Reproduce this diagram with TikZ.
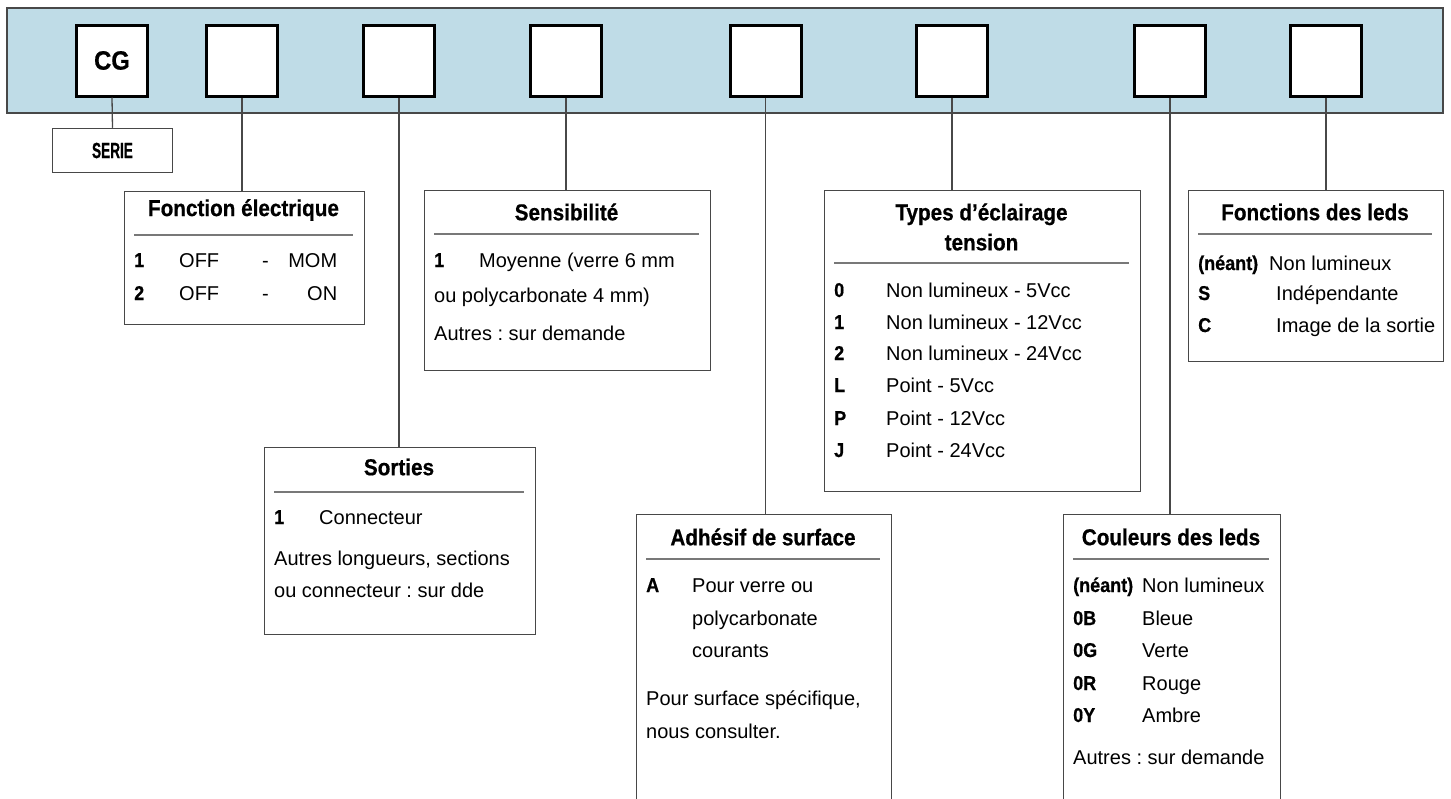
\documentclass[tikz,border=0pt]{standalone}
\usepackage{fontspec}
\setmainfont{Liberation Sans}
\newfontfamily\hdfont{Liberation Sans}[FakeStretch=0.9,BoldFeatures={FakeBold=0.6}]
\newfontfamily\serfont{Liberation Sans}[FakeStretch=0.62,BoldFeatures={FakeBold=0.6}]
\newcommand\lbl[1]{{\hdfont\bfseries #1}}
\definecolor{bandblue}{RGB}{191,220,231}
\definecolor{framegray}{RGB}{72,72,72}
\definecolor{sepgray}{RGB}{120,120,120}
\frenchspacing

\tikzset{
	codebox/.style={draw=black,line width=3pt,fill=white,minimum size=71pt,inner sep=0pt},
	panel/.style={draw=framegray,line width=1.5pt,fill=white,anchor=north west,inner sep=0pt},
	head/.style={inner sep=0pt,align=center,font=\fontsize{23}{30}\selectfont\hdfont\bfseries},
	txt/.style={anchor=base west,inner sep=0pt,font=\fontsize{20}{24}\selectfont},
	sepline/.style={draw=sepgray,line width=1.5pt},
	conn/.style={draw=framegray,line width=1.3pt}
}

\begin{document}
\begin{tikzpicture}[x=1pt,y=-1pt]
				\clip (0,0) rectangle (1451,798);
				% bandeau de reference
				\draw [fill=bandblue,draw=framegray,line width=1.5pt] (7,8) rectangle (1443,113);
				\node [codebox,font=\fontsize{26.5}{30}\selectfont\hdfont\bfseries] (c1) at (112,60.5) {CG};
				\node [codebox] (c2) at (242,60.5) {};
				\node [codebox] (c3) at (399,60.5) {};
				\node [codebox] (c4) at (566,60.5) {};
				\node [codebox] (c5) at (765.5,60.5) {};
				\node [codebox] (c6) at (952,60.5) {};
				\node [codebox] (c7) at (1170,60.5) {};
				\node [codebox] (c8) at (1326,60.5) {};
				% cadres
				\node [draw=framegray,line width=1.5pt,minimum width=120pt,minimum height=44pt,inner sep=0pt,font=\fontsize{22}{24}\selectfont\serfont\bfseries] (serie) at (112.5,150.5) {SERIE};
				\node [panel,minimum width=240pt,minimum height=133pt] (fonc) at (123.5,190.5) {};
				\node [panel,minimum width=286pt,minimum height=180pt] (sens) at (423.5,189.5) {};
				\node [panel,minimum width=271pt,minimum height=187pt] (sort) at (263.5,446.5) {};
				\node [panel,minimum width=255pt,minimum height=320pt] (adhe) at (635.5,513.5) {};
				\node [panel,minimum width=316pt,minimum height=301pt] (type) at (823.5,189.5) {};
				\node [panel,minimum width=217pt,minimum height=320pt] (coul) at (1062.5,513.5) {};
				\node [panel,minimum width=255pt,minimum height=171pt] (fled) at (1187.5,189.5) {};
				% liaisons
				\draw [conn] (c1.south) -- (serie.north);
				\draw [conn] (c2.south) -- (c2.south |- fonc.north);
				\draw [conn] (c3.south) -- (c3.south |- sort.north);
				\draw [conn] (c4.south) -- (c4.south |- sens.north);
				\draw [conn] (c5.south) -- (c5.south |- adhe.north);
				\draw [conn] (c6.south) -- (c6.south |- type.north);
				\draw [conn] (c7.south) -- (c7.south |- coul.north);
				\draw [conn] (c8.south) -- (c8.south |- fled.north);
				% Fonction electrique
				\node [head] (foncT) at (243.5,210) {Fonction électrique};
				\draw [sepline] (134,235) -- (353,235);
				\node [txt] (fo1) at (134,267) {\makebox[45pt][l]{\lbl{1}}\makebox[83pt][l]{OFF}\makebox[75pt][l]{-\hfill MOM}};
				\node [txt] (fo2) at (134,300) {\makebox[45pt][l]{\lbl{2}}\makebox[83pt][l]{OFF}\makebox[75pt][l]{-\hfill ON}};
				% Sensibilite
				\node [head] (sensT) at (566.5,212) {Sensibilité};
				\draw [sepline] (434,234) -- (699,234);
				\node [txt] (se1) at (434,267) {\makebox[45pt][l]{\lbl{1}}Moyenne (verre 6 mm};
				\node [txt] (se2) at (434,302) {ou polycarbonate 4 mm)};
				\node [txt] (se3) at (434,340) {Autres : sur demande};
				% Sorties
				\node [head] (sortT) at (399,467) {Sorties};
				\draw [sepline] (274,492) -- (524,492);
				\node [txt] (so1) at (274,524) {\makebox[45pt][l]{\lbl{1}}Connecteur};
				\node [txt] (so2) at (274,565) {Autres longueurs, sections};
				\node [txt] (so3) at (274,597) {ou connecteur : sur dde};
				% Adhesif de surface
				\node [head] (adheT) at (763,537) {Adhésif de surface};
				\draw [sepline] (646,559) -- (880,559);
				\node [txt] (ad1) at (646,592) {\makebox[46pt][l]{\lbl{A}}Pour verre ou};
				\node [txt] (ad2) at (692,625) {polycarbonate};
				\node [txt] (ad3) at (692,657) {courants};
				\node [txt] (ad4) at (646,705) {Pour surface spécifique,};
				\node [txt] (ad5) at (646,738) {nous consulter.};
				% Types d'eclairage
				\node [head] (typeT) at (981.5,227) {Types d’éclairage\\tension};
				\draw [sepline] (834,263) -- (1129,263);
				\node [txt] (ty1) at (834,297) {\makebox[52pt][l]{\lbl{0}}Non lumineux - 5Vcc};
				\node [txt] (ty2) at (834,329) {\makebox[52pt][l]{\lbl{1}}Non lumineux - 12Vcc};
				\node [txt] (ty3) at (834,360) {\makebox[52pt][l]{\lbl{2}}Non lumineux - 24Vcc};
				\node [txt] (ty4) at (834,392) {\makebox[52pt][l]{\lbl{L}}Point - 5Vcc};
				\node [txt] (ty5) at (834,425) {\makebox[52pt][l]{\lbl{P}}Point - 12Vcc};
				\node [txt] (ty6) at (834,457) {\makebox[52pt][l]{\lbl{J}}Point - 24Vcc};
				% Couleurs des leds
				\node [head] (coulT) at (1171,537) {Couleurs des leds};
				\draw [sepline] (1073,559) -- (1269,559);
				\node [txt] (co1) at (1073,592) {\makebox[69pt][l]{\lbl{(néant)}}Non lumineux};
				\node [txt] (co2) at (1073,625) {\makebox[69pt][l]{\lbl{0B}}Bleue};
				\node [txt] (co3) at (1073,657) {\makebox[69pt][l]{\lbl{0G}}Verte};
				\node [txt] (co4) at (1073,690) {\makebox[69pt][l]{\lbl{0R}}Rouge};
				\node [txt] (co5) at (1073,722) {\makebox[69pt][l]{\lbl{0Y}}Ambre};
				\node [txt] (co6) at (1073,764) {Autres : sur demande};
				% Fonctions des leds
				\node [head] (fledT) at (1315,212) {Fonctions des leds};
				\draw [sepline] (1198,234) -- (1432,234);
				\node [txt] (fl1) at (1198,270) {\makebox[71pt][l]{\lbl{(néant)}}Non lumineux};
				\node [txt] (fl2) at (1198,300) {\makebox[78pt][l]{\lbl{S}}Indépendante};
				\node [txt] (fl3) at (1198,332) {\makebox[78pt][l]{\lbl{C}}Image de la sortie};
			\end{tikzpicture}
\end{document}
